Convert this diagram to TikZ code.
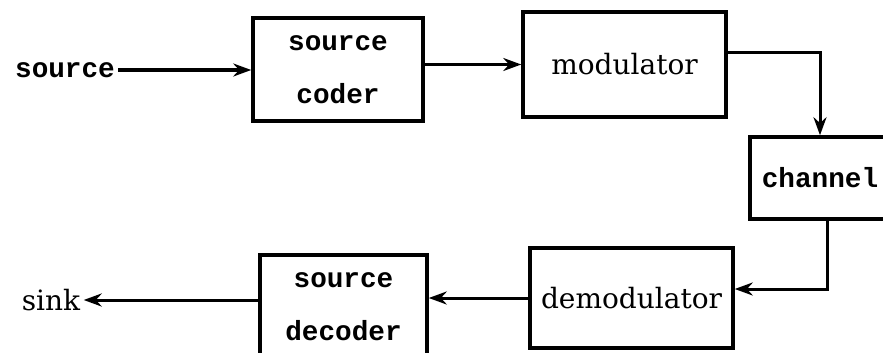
\documentclass[tikz,border=0pt]{standalone}
\usepackage{fontspec}
\setmainfont{DejaVu Serif}
\newfontfamily\typewr{Liberation Mono}
\usetikzlibrary{positioning,arrows.meta}
\tikzstyle{block}=[draw, line width=3.5pt, inner sep=0pt]
\tikzstyle{mono}=[font=\typewr\bfseries\fontsize{27.7}{53}\selectfont, align=center]
\tikzstyle{roman}=[font=\fontsize{28}{34}\selectfont]
\tikzstyle{link}=[draw, line width=3pt, -{Stealth[length=18pt,width=13pt]}]

\begin{document}
\begin{tikzpicture}[x=1pt, y=-1pt]
            \useasboundingbox (0,0) rectangle (883,353);

            \begin{scope}[every node/.style={block}]
                \node[mono, minimum width=170pt, minimum height=103pt] (coder) at (338,69.5) {source\\coder};
                \node[roman, minimum width=203pt, minimum height=105pt] (mod) at (624.5,64.5) {modulator};
                \node[mono, minimum width=140pt, minimum height=82pt] (chan) at (820,178) {channel};
                \node[roman, minimum width=203pt, minimum height=100pt] (demod) at (631.5,298) {demodulator};
                \node[mono, minimum width=167pt, minimum height=103pt] (dec) at (343.5,306.5) {source\\decoder};
            \end{scope}

            \node[mono] (src) at (65,70) {source};
            \node[roman] (sink) at (51,300) {sink};

            \path[link] (src.east) -- (src.east -| coder.west);
            \path[link] (coder.east |- mod.west) -- (mod.west);
            \path[link] ([yshift=11.5pt]mod.east) -| (chan.north);
            \path[link] ([xshift=7pt]chan.south) |- ([yshift=9pt]demod.east);
            \path[link] (demod.west) -- (demod.west -| dec.east);
            \path[link] (dec.west |- sink) -- (sink);
        \end{tikzpicture}
\end{document}
